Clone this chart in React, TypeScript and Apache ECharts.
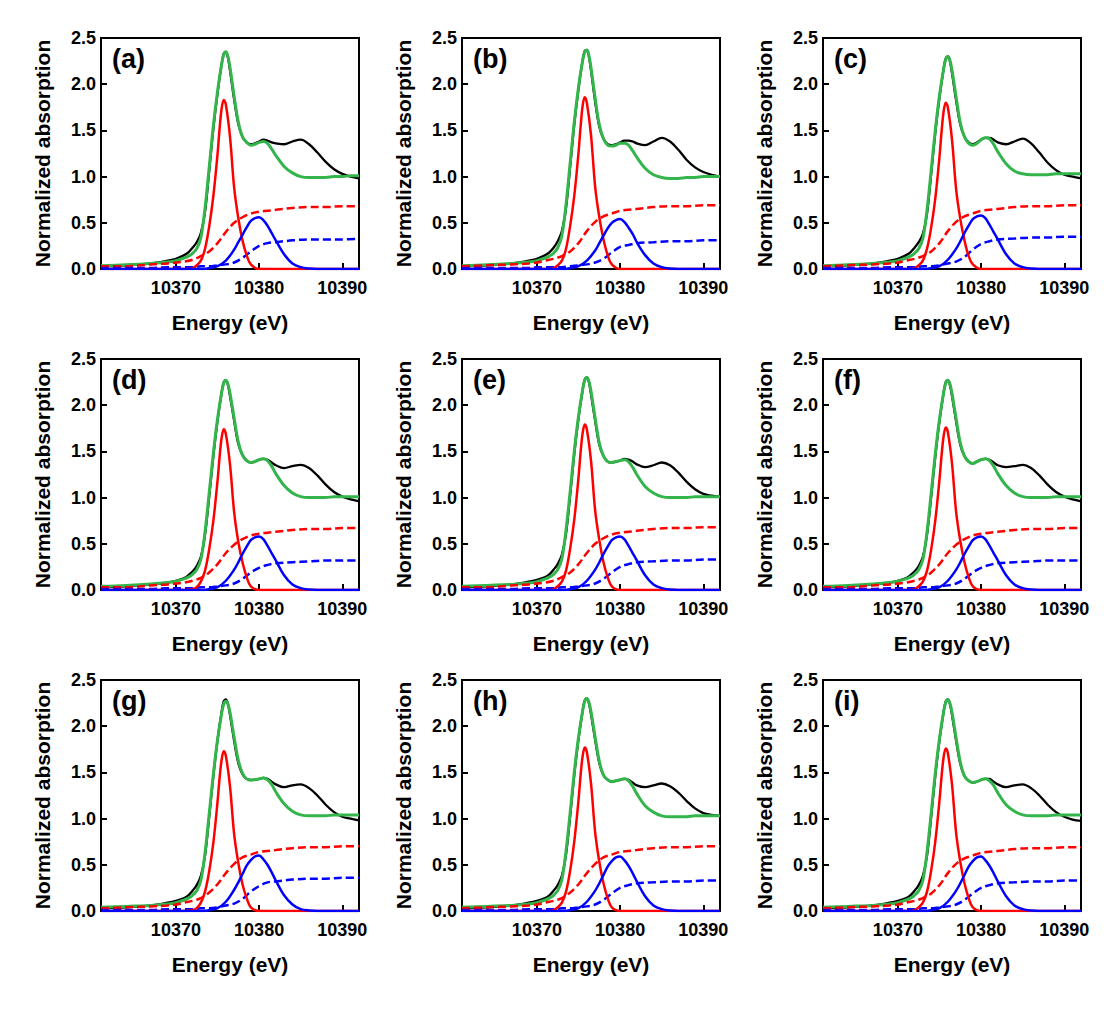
import React, { useEffect, useRef } from 'react';
import * as echarts from 'echarts';

// Energy grids (eV)
const E_FIT = [10361, 10364, 10367, 10369, 10370, 10371, 10371.5, 10372, 10372.5, 10373, 10373.5, 10374, 10374.5, 10375, 10375.5, 10375.75, 10376, 10376.25, 10376.5, 10377, 10377.5, 10378, 10378.5, 10379, 10379.5, 10380, 10380.5, 10381, 10381.5, 10382, 10383, 10384, 10385, 10386, 10387, 10388, 10389, 10390, 10391, 10392];
const E_PEAK1 = [10361, 10371, 10372, 10372.5, 10373, 10373.5, 10374, 10374.5, 10375, 10375.25, 10375.5, 10375.75, 10376, 10376.5, 10377, 10377.5, 10378, 10378.5, 10379, 10380, 10392];
const E_PEAK2 = [10361, 10373, 10374, 10375, 10376, 10377, 10377.5, 10378, 10378.5, 10379, 10379.5, 10380, 10380.5, 10381, 10381.5, 10382, 10383, 10384, 10385, 10386, 10387, 10392];
const E_STEP = [10361, 10364, 10367, 10369, 10370, 10371, 10372, 10373, 10374, 10375, 10376, 10377, 10378, 10379, 10380, 10381, 10382, 10384, 10386, 10388, 10390, 10392];

const X_TICKS = [10370, 10380, 10390];
const PANEL_LABELS = ['(a)', '(b)', '(c)', '(d)', '(e)', '(f)', '(g)', '(h)', '(i)'];

// (a)
const EXPT_A = [0.03, 0.04, 0.06, 0.09, 0.11, 0.15, 0.18, 0.23, 0.29, 0.39, 0.62, 1.06, 1.52, 1.90, 2.22, 2.33, 2.35, 2.29, 2.15, 1.83, 1.57, 1.43, 1.37, 1.35, 1.36, 1.38, 1.40, 1.39, 1.37, 1.36, 1.35, 1.38, 1.40, 1.35, 1.26, 1.16, 1.08, 1.03, 1.00, 0.98];
const FIT_A = [0.035, 0.045, 0.06, 0.075, 0.09, 0.12, 0.14, 0.17, 0.22, 0.34, 0.66, 1.10, 1.55, 1.92, 2.22, 2.32, 2.35, 2.30, 2.18, 1.87, 1.59, 1.43, 1.37, 1.34, 1.35, 1.37, 1.38, 1.36, 1.30, 1.23, 1.11, 1.04, 1.00, 0.99, 0.99, 0.99, 1.00, 1.00, 1.01, 1.01];
const PEAK1_A = [0, 0, 0.01, 0.04, 0.09, 0.22, 0.46, 0.79, 1.24, 1.52, 1.74, 1.83, 1.78, 1.43, 0.88, 0.55, 0.31, 0.15, 0.05, 0, 0];
const PEAK2_A = [0, 0, 0.01, 0.03, 0.09, 0.21, 0.29, 0.37, 0.45, 0.52, 0.55, 0.56, 0.53, 0.47, 0.39, 0.31, 0.16, 0.06, 0.02, 0.005, 0, 0];
const STEP1_A = [0.03, 0.03, 0.05, 0.06, 0.07, 0.08, 0.10, 0.14, 0.19, 0.28, 0.40, 0.50, 0.56, 0.60, 0.62, 0.63, 0.64, 0.66, 0.67, 0.67, 0.68, 0.68];
const STEP2_A = [0.01, 0.01, 0.01, 0.02, 0.02, 0.02, 0.02, 0.03, 0.03, 0.04, 0.05, 0.07, 0.12, 0.19, 0.25, 0.28, 0.29, 0.31, 0.32, 0.32, 0.32, 0.325];

// (b)
const EXPT_B = [0.03, 0.04, 0.06, 0.09, 0.11, 0.15, 0.18, 0.23, 0.30, 0.41, 0.66, 1.11, 1.57, 1.95, 2.26, 2.36, 2.37, 2.30, 2.15, 1.81, 1.54, 1.41, 1.35, 1.34, 1.35, 1.37, 1.39, 1.39, 1.38, 1.36, 1.34, 1.38, 1.42, 1.38, 1.29, 1.18, 1.10, 1.05, 1.02, 1.00];
const FIT_B = [0.035, 0.045, 0.06, 0.075, 0.09, 0.12, 0.14, 0.17, 0.23, 0.36, 0.70, 1.15, 1.60, 1.97, 2.26, 2.35, 2.37, 2.31, 2.18, 1.85, 1.56, 1.41, 1.34, 1.33, 1.34, 1.36, 1.36, 1.34, 1.28, 1.21, 1.09, 1.02, 0.99, 0.98, 0.98, 0.99, 0.99, 1.00, 1.00, 1.00];
const PEAK1_B = [0, 0, 0.01, 0.04, 0.09, 0.22, 0.47, 0.80, 1.26, 1.54, 1.77, 1.86, 1.80, 1.45, 0.89, 0.56, 0.32, 0.15, 0.05, 0, 0];
const PEAK2_B = [0, 0, 0.01, 0.03, 0.09, 0.20, 0.28, 0.36, 0.44, 0.50, 0.53, 0.54, 0.51, 0.45, 0.38, 0.29, 0.15, 0.06, 0.02, 0.005, 0, 0];
const STEP1_B = [0.03, 0.04, 0.05, 0.06, 0.07, 0.09, 0.11, 0.14, 0.19, 0.28, 0.41, 0.51, 0.57, 0.60, 0.63, 0.64, 0.65, 0.67, 0.68, 0.68, 0.69, 0.69];
const STEP2_B = [0.01, 0.01, 0.01, 0.01, 0.02, 0.02, 0.02, 0.02, 0.03, 0.04, 0.05, 0.07, 0.11, 0.18, 0.24, 0.26, 0.28, 0.29, 0.30, 0.30, 0.31, 0.31];

// (c)
const EXPT_C = [0.03, 0.04, 0.06, 0.09, 0.11, 0.15, 0.18, 0.23, 0.29, 0.38, 0.60, 1.03, 1.48, 1.86, 2.17, 2.28, 2.30, 2.25, 2.12, 1.82, 1.56, 1.43, 1.37, 1.35, 1.37, 1.40, 1.42, 1.42, 1.40, 1.37, 1.35, 1.38, 1.41, 1.36, 1.26, 1.15, 1.07, 1.02, 1.00, 0.98];
const FIT_C = [0.035, 0.045, 0.06, 0.075, 0.09, 0.12, 0.14, 0.17, 0.22, 0.33, 0.64, 1.07, 1.51, 1.88, 2.17, 2.27, 2.30, 2.26, 2.15, 1.86, 1.58, 1.43, 1.36, 1.34, 1.36, 1.40, 1.42, 1.41, 1.35, 1.27, 1.14, 1.06, 1.03, 1.02, 1.02, 1.02, 1.03, 1.03, 1.03, 1.03];
const PEAK1_C = [0, 0, 0.01, 0.04, 0.09, 0.22, 0.45, 0.77, 1.22, 1.49, 1.71, 1.80, 1.75, 1.40, 0.86, 0.54, 0.31, 0.14, 0.05, 0, 0];
const PEAK2_C = [0, 0, 0.01, 0.03, 0.10, 0.22, 0.30, 0.39, 0.47, 0.54, 0.57, 0.58, 0.55, 0.48, 0.40, 0.32, 0.16, 0.06, 0.02, 0.005, 0, 0];
const STEP1_C = [0.03, 0.04, 0.05, 0.06, 0.07, 0.09, 0.11, 0.14, 0.19, 0.28, 0.41, 0.51, 0.57, 0.60, 0.63, 0.64, 0.65, 0.67, 0.68, 0.68, 0.69, 0.69];
const STEP2_C = [0.01, 0.01, 0.01, 0.02, 0.02, 0.02, 0.02, 0.03, 0.03, 0.04, 0.06, 0.08, 0.13, 0.21, 0.27, 0.30, 0.32, 0.33, 0.34, 0.34, 0.35, 0.35];

// (d)
const EXPT_D = [0.03, 0.04, 0.06, 0.08, 0.10, 0.13, 0.16, 0.20, 0.26, 0.36, 0.60, 1.01, 1.45, 1.83, 2.14, 2.25, 2.27, 2.22, 2.10, 1.83, 1.58, 1.46, 1.40, 1.38, 1.39, 1.41, 1.42, 1.41, 1.38, 1.35, 1.32, 1.34, 1.355, 1.32, 1.24, 1.14, 1.06, 1.01, 0.98, 0.96];
const FIT_D = [0.04, 0.05, 0.065, 0.08, 0.095, 0.12, 0.14, 0.17, 0.22, 0.33, 0.63, 1.05, 1.48, 1.85, 2.14, 2.24, 2.27, 2.23, 2.13, 1.86, 1.60, 1.46, 1.40, 1.38, 1.39, 1.41, 1.42, 1.40, 1.34, 1.26, 1.13, 1.05, 1.01, 1.00, 1.00, 1.00, 1.01, 1.01, 1.01, 1.01];
const PEAK1_D = [0, 0, 0.01, 0.03, 0.09, 0.21, 0.44, 0.75, 1.18, 1.44, 1.65, 1.74, 1.69, 1.36, 0.84, 0.52, 0.30, 0.14, 0.04, 0, 0];
const PEAK2_D = [0, 0, 0.01, 0.03, 0.10, 0.22, 0.30, 0.39, 0.47, 0.54, 0.57, 0.58, 0.55, 0.48, 0.40, 0.32, 0.16, 0.06, 0.02, 0.005, 0, 0];
const STEP1_D = [0.03, 0.03, 0.05, 0.06, 0.07, 0.08, 0.10, 0.13, 0.19, 0.28, 0.40, 0.49, 0.55, 0.59, 0.61, 0.62, 0.63, 0.65, 0.66, 0.66, 0.67, 0.67];
const STEP2_D = [0.01, 0.01, 0.01, 0.02, 0.02, 0.02, 0.02, 0.03, 0.03, 0.04, 0.05, 0.07, 0.12, 0.19, 0.24, 0.27, 0.29, 0.30, 0.31, 0.32, 0.32, 0.32];

// (e)
const EXPT_E = [0.03, 0.04, 0.06, 0.09, 0.11, 0.14, 0.17, 0.22, 0.28, 0.38, 0.61, 1.03, 1.48, 1.86, 2.17, 2.28, 2.30, 2.25, 2.12, 1.83, 1.57, 1.45, 1.39, 1.38, 1.39, 1.40, 1.42, 1.41, 1.39, 1.36, 1.33, 1.35, 1.38, 1.35, 1.27, 1.17, 1.09, 1.04, 1.02, 1.01];
const FIT_E = [0.04, 0.05, 0.06, 0.075, 0.09, 0.12, 0.14, 0.17, 0.22, 0.34, 0.65, 1.07, 1.51, 1.88, 2.17, 2.27, 2.30, 2.26, 2.15, 1.86, 1.59, 1.45, 1.39, 1.38, 1.39, 1.40, 1.41, 1.39, 1.33, 1.25, 1.12, 1.05, 1.01, 1.00, 1.00, 1.00, 1.01, 1.01, 1.01, 1.01];
const PEAK1_E = [0, 0, 0.01, 0.04, 0.09, 0.21, 0.45, 0.77, 1.22, 1.49, 1.70, 1.79, 1.74, 1.40, 0.86, 0.54, 0.30, 0.14, 0.04, 0, 0];
const PEAK2_E = [0, 0, 0.01, 0.03, 0.10, 0.22, 0.30, 0.39, 0.47, 0.54, 0.57, 0.58, 0.55, 0.48, 0.40, 0.32, 0.16, 0.06, 0.02, 0.005, 0, 0];
const STEP1_E = [0.03, 0.03, 0.05, 0.06, 0.07, 0.08, 0.10, 0.14, 0.19, 0.28, 0.40, 0.50, 0.56, 0.60, 0.62, 0.63, 0.64, 0.66, 0.67, 0.67, 0.68, 0.68];
const STEP2_E = [0.01, 0.01, 0.01, 0.02, 0.02, 0.02, 0.02, 0.03, 0.03, 0.04, 0.05, 0.07, 0.12, 0.19, 0.25, 0.28, 0.30, 0.31, 0.32, 0.32, 0.33, 0.33];

// (f)
const EXPT_F = [0.03, 0.04, 0.06, 0.08, 0.10, 0.13, 0.16, 0.20, 0.26, 0.36, 0.60, 1.01, 1.45, 1.83, 2.14, 2.25, 2.27, 2.22, 2.10, 1.82, 1.57, 1.45, 1.39, 1.37, 1.39, 1.41, 1.42, 1.41, 1.38, 1.35, 1.33, 1.34, 1.355, 1.32, 1.24, 1.14, 1.06, 1.01, 0.98, 0.96];
const FIT_F = [0.04, 0.05, 0.065, 0.08, 0.095, 0.12, 0.14, 0.17, 0.22, 0.33, 0.63, 1.05, 1.48, 1.85, 2.14, 2.24, 2.27, 2.23, 2.13, 1.85, 1.59, 1.45, 1.39, 1.37, 1.39, 1.41, 1.42, 1.40, 1.34, 1.26, 1.13, 1.05, 1.01, 1.00, 1.00, 1.00, 1.01, 1.01, 1.01, 1.01];
const PEAK1_F = [0, 0, 0.01, 0.04, 0.09, 0.21, 0.44, 0.76, 1.20, 1.46, 1.67, 1.76, 1.71, 1.37, 0.84, 0.53, 0.30, 0.14, 0.04, 0, 0];
const PEAK2_F = [0, 0, 0.01, 0.03, 0.10, 0.22, 0.30, 0.39, 0.47, 0.54, 0.57, 0.58, 0.55, 0.48, 0.40, 0.32, 0.16, 0.06, 0.02, 0.005, 0, 0];
const STEP1_F = [0.03, 0.03, 0.05, 0.06, 0.07, 0.08, 0.10, 0.13, 0.19, 0.28, 0.40, 0.49, 0.55, 0.59, 0.61, 0.62, 0.63, 0.65, 0.66, 0.66, 0.67, 0.67];
const STEP2_F = [0.01, 0.01, 0.01, 0.02, 0.02, 0.02, 0.02, 0.03, 0.03, 0.04, 0.05, 0.07, 0.12, 0.19, 0.24, 0.27, 0.29, 0.30, 0.31, 0.32, 0.32, 0.32];

// (g)
const EXPT_G = [0.03, 0.04, 0.06, 0.09, 0.11, 0.14, 0.17, 0.22, 0.28, 0.38, 0.60, 1.02, 1.46, 1.85, 2.16, 2.27, 2.29, 2.24, 2.12, 1.84, 1.60, 1.48, 1.43, 1.42, 1.42, 1.43, 1.44, 1.43, 1.40, 1.37, 1.34, 1.36, 1.37, 1.33, 1.25, 1.15, 1.07, 1.02, 1.00, 0.98];
const FIT_G = [0.04, 0.05, 0.06, 0.075, 0.09, 0.12, 0.14, 0.17, 0.22, 0.33, 0.63, 1.05, 1.48, 1.85, 2.14, 2.24, 2.27, 2.24, 2.15, 1.88, 1.63, 1.49, 1.43, 1.415, 1.42, 1.43, 1.44, 1.42, 1.37, 1.29, 1.16, 1.08, 1.04, 1.03, 1.03, 1.03, 1.04, 1.04, 1.04, 1.04];
const PEAK1_G = [0, 0, 0.01, 0.03, 0.09, 0.21, 0.43, 0.74, 1.18, 1.44, 1.64, 1.73, 1.68, 1.35, 0.83, 0.52, 0.29, 0.14, 0.04, 0, 0];
const PEAK2_G = [0, 0, 0.01, 0.03, 0.10, 0.23, 0.31, 0.40, 0.49, 0.55, 0.59, 0.60, 0.56, 0.50, 0.42, 0.33, 0.17, 0.07, 0.02, 0.005, 0, 0];
const STEP1_G = [0.03, 0.04, 0.05, 0.06, 0.07, 0.09, 0.11, 0.14, 0.20, 0.29, 0.41, 0.51, 0.58, 0.61, 0.64, 0.65, 0.66, 0.68, 0.69, 0.69, 0.70, 0.70];
const STEP2_G = [0.01, 0.01, 0.01, 0.02, 0.02, 0.02, 0.02, 0.03, 0.03, 0.04, 0.06, 0.08, 0.13, 0.21, 0.27, 0.31, 0.32, 0.34, 0.35, 0.35, 0.36, 0.36];

// (h)
const EXPT_H = [0.03, 0.04, 0.06, 0.09, 0.11, 0.14, 0.17, 0.22, 0.28, 0.38, 0.61, 1.03, 1.48, 1.86, 2.17, 2.28, 2.30, 2.25, 2.13, 1.85, 1.60, 1.47, 1.42, 1.40, 1.41, 1.42, 1.43, 1.42, 1.39, 1.36, 1.34, 1.36, 1.38, 1.35, 1.28, 1.19, 1.11, 1.06, 1.04, 1.03];
const FIT_H = [0.04, 0.05, 0.06, 0.075, 0.09, 0.12, 0.14, 0.17, 0.22, 0.34, 0.65, 1.07, 1.51, 1.88, 2.17, 2.27, 2.30, 2.26, 2.16, 1.88, 1.62, 1.47, 1.42, 1.40, 1.41, 1.42, 1.43, 1.41, 1.35, 1.27, 1.14, 1.07, 1.03, 1.02, 1.02, 1.02, 1.03, 1.03, 1.03, 1.03];
const PEAK1_H = [0, 0, 0.01, 0.04, 0.09, 0.21, 0.44, 0.76, 1.20, 1.47, 1.68, 1.77, 1.72, 1.38, 0.85, 0.53, 0.30, 0.14, 0.04, 0, 0];
const PEAK2_H = [0, 0, 0.01, 0.03, 0.10, 0.22, 0.30, 0.39, 0.48, 0.54, 0.58, 0.59, 0.55, 0.49, 0.41, 0.32, 0.16, 0.06, 0.02, 0.005, 0, 0];
const STEP1_H = [0.03, 0.04, 0.05, 0.06, 0.07, 0.09, 0.11, 0.14, 0.20, 0.29, 0.41, 0.51, 0.58, 0.61, 0.64, 0.65, 0.66, 0.68, 0.69, 0.69, 0.70, 0.70];
const STEP2_H = [0.01, 0.01, 0.01, 0.02, 0.02, 0.02, 0.02, 0.03, 0.03, 0.04, 0.05, 0.07, 0.12, 0.19, 0.25, 0.28, 0.30, 0.31, 0.32, 0.32, 0.33, 0.33];

// (i)
const EXPT_I = [0.03, 0.04, 0.06, 0.09, 0.11, 0.14, 0.17, 0.22, 0.28, 0.38, 0.60, 1.02, 1.47, 1.85, 2.16, 2.27, 2.29, 2.24, 2.12, 1.84, 1.59, 1.46, 1.41, 1.39, 1.40, 1.42, 1.43, 1.43, 1.40, 1.37, 1.34, 1.36, 1.37, 1.33, 1.25, 1.15, 1.07, 1.02, 0.99, 0.975];
const FIT_I = [0.04, 0.05, 0.06, 0.075, 0.09, 0.12, 0.14, 0.17, 0.22, 0.33, 0.64, 1.06, 1.50, 1.87, 2.16, 2.26, 2.29, 2.25, 2.15, 1.87, 1.61, 1.46, 1.41, 1.39, 1.40, 1.42, 1.43, 1.41, 1.36, 1.28, 1.15, 1.08, 1.04, 1.03, 1.03, 1.03, 1.04, 1.04, 1.04, 1.04];
const PEAK1_I = [0, 0, 0.01, 0.04, 0.09, 0.21, 0.44, 0.76, 1.20, 1.46, 1.67, 1.76, 1.71, 1.37, 0.84, 0.53, 0.30, 0.14, 0.04, 0, 0];
const PEAK2_I = [0, 0, 0.01, 0.03, 0.10, 0.22, 0.30, 0.39, 0.48, 0.54, 0.58, 0.59, 0.55, 0.49, 0.41, 0.32, 0.16, 0.06, 0.02, 0.005, 0, 0];
const STEP1_I = [0.03, 0.04, 0.05, 0.06, 0.07, 0.09, 0.11, 0.14, 0.19, 0.28, 0.41, 0.51, 0.57, 0.60, 0.63, 0.64, 0.65, 0.67, 0.68, 0.68, 0.69, 0.69];
const STEP2_I = [0.01, 0.01, 0.01, 0.02, 0.02, 0.02, 0.02, 0.03, 0.03, 0.04, 0.05, 0.07, 0.12, 0.19, 0.25, 0.28, 0.30, 0.31, 0.32, 0.32, 0.33, 0.33];

const PANELS = [
  { expt: EXPT_A, fit: FIT_A, peak1: PEAK1_A, peak2: PEAK2_A, step1: STEP1_A, step2: STEP2_A },
  { expt: EXPT_B, fit: FIT_B, peak1: PEAK1_B, peak2: PEAK2_B, step1: STEP1_B, step2: STEP2_B },
  { expt: EXPT_C, fit: FIT_C, peak1: PEAK1_C, peak2: PEAK2_C, step1: STEP1_C, step2: STEP2_C },
  { expt: EXPT_D, fit: FIT_D, peak1: PEAK1_D, peak2: PEAK2_D, step1: STEP1_D, step2: STEP2_D },
  { expt: EXPT_E, fit: FIT_E, peak1: PEAK1_E, peak2: PEAK2_E, step1: STEP1_E, step2: STEP2_E },
  { expt: EXPT_F, fit: FIT_F, peak1: PEAK1_F, peak2: PEAK2_F, step1: STEP1_F, step2: STEP2_F },
  { expt: EXPT_G, fit: FIT_G, peak1: PEAK1_G, peak2: PEAK2_G, step1: STEP1_G, step2: STEP2_G },
  { expt: EXPT_H, fit: FIT_H, peak1: PEAK1_H, peak2: PEAK2_H, step1: STEP1_H, step2: STEP2_H },
  { expt: EXPT_I, fit: FIT_I, peak1: PEAK1_I, peak2: PEAK2_I, step1: STEP1_I, step2: STEP2_I },
];

const COL_LEFT = [101, 462, 823];
const ROW_TOP = [38, 359, 680];
const GRID_W = 258;
const GRID_H = 231;

const FONT = '"Liberation Sans", Arial, sans-serif';
const GREEN = '#33B54C';
const RED = '#FF0000';
const BLUE = '#0000FF';

function pairs(xs: number[], ys: number[]) {
  return xs.map((x, i) => [x, ys[i]]);
}

export default function App() {
  const ref = useRef<HTMLDivElement>(null);
  useEffect(() => {
    document.body.style.margin = '0';
    const chart = echarts.init(ref.current as HTMLDivElement, null, { renderer: 'svg' });
    const grid: any[] = [];
    const xAxis: any[] = [];
    const yAxis: any[] = [];
    const series: any[] = [];
    const graphic: any[] = [];

    PANELS.forEach((p, i) => {
      const left = COL_LEFT[i % 3];
      const top = ROW_TOP[Math.floor(i / 3)];
      grid.push({
        left, top, width: GRID_W, height: GRID_H,
        show: true, borderColor: '#000', borderWidth: 2, backgroundColor: 'transparent',
        containLabel: false,
      });
      xAxis.push({
        type: 'value', gridIndex: i, min: 10361, max: 10392,
        name: 'Energy (eV)', nameLocation: 'middle', nameGap: 43,
        nameTextStyle: { fontFamily: FONT, fontWeight: 'bold', fontSize: 21, color: '#000' },
        axisLine: { show: true, onZero: false, lineStyle: { color: '#000', width: 2 } },
        axisTick: { show: true, inside: true, length: 6, lineStyle: { color: '#000', width: 2 }, customValues: X_TICKS },
        axisLabel: {
          show: true, customValues: X_TICKS, margin: 10, fontFamily: FONT, fontWeight: 'bold', fontSize: 18, color: '#000',
          formatter: (v: number) => String(Math.round(v)),
        },
        splitLine: { show: false },
      });
      yAxis.push({
        type: 'value', gridIndex: i, min: 0, max: 2.5, interval: 0.5,
        name: 'Normalized absorption', nameLocation: 'middle', nameGap: 48,
        nameTextStyle: { fontFamily: FONT, fontWeight: 'bold', fontSize: 21, color: '#000' },
        axisLine: { show: true, onZero: false, lineStyle: { color: '#000', width: 2 } },
        axisTick: { show: true, inside: true, length: 6, lineStyle: { color: '#000', width: 2 } },
        axisLabel: {
          show: true, margin: 5, fontFamily: FONT, fontWeight: 'bold', fontSize: 18, color: '#000',
          formatter: (v: number) => v.toFixed(1),
        },
        splitLine: { show: false },
      });
      const base = { type: 'line', xAxisIndex: i, yAxisIndex: i, showSymbol: false, symbol: 'none', smooth: 0.35, clip: true, silent: true };
      series.push({ ...base, name: 'Experiment', data: pairs(E_FIT, p.expt), z: 2, lineStyle: { color: '#000', width: 2.3 } });
      series.push({ ...base, name: 'Fit', data: pairs(E_FIT, p.fit), z: 3, lineStyle: { color: GREEN, width: 3 } });
      series.push({ ...base, name: 'Step 1', data: pairs(E_STEP, p.step1), z: 4, lineStyle: { color: RED, width: 2.5, type: [8, 4] } });
      series.push({ ...base, name: 'Step 2', data: pairs(E_STEP, p.step2), z: 4, lineStyle: { color: BLUE, width: 2.5, type: [8, 4] } });
      series.push({ ...base, name: 'Peak 1', data: pairs(E_PEAK1, p.peak1), z: 5, lineStyle: { color: RED, width: 2.5 } });
      series.push({ ...base, name: 'Peak 2', data: pairs(E_PEAK2, p.peak2), z: 5, lineStyle: { color: BLUE, width: 2.5 } });
      graphic.push({
        type: 'text', left: left + 11, top: top + 7, z: 10,
        style: { text: PANEL_LABELS[i], fontFamily: FONT, fontWeight: 'bold', fontSize: 27, fill: '#000' },
      });
    });

    chart.setOption({
      animation: false,
      backgroundColor: '#fff',
      grid, xAxis, yAxis, series, graphic,
    });
    return () => chart.dispose();
  }, []);
  return <div ref={ref} style={{ position: 'absolute', left: 0, top: 0, width: 1111, height: 1014, background: '#fff' }} />;
}
